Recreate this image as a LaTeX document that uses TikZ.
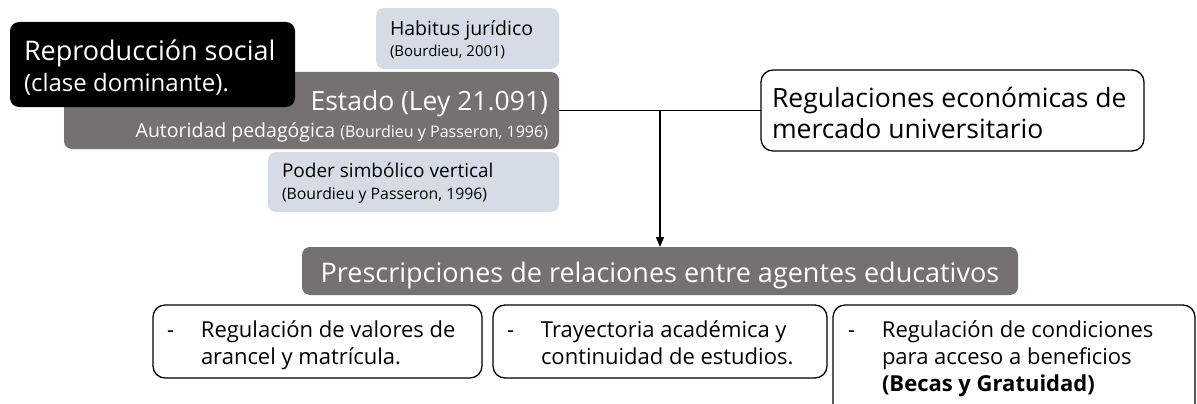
\documentclass[tikz,border=0pt]{standalone}
\usepackage{fontspec}
\setmainfont{Open Sans}
\usetikzlibrary{arrows.meta}
\definecolor{dgray}{HTML}{767171}
\definecolor{lblue}{HTML}{D6DCE5}
\newcommand{\fsz}[2]{\fontsize{#1}{#2}\selectfont}
\begin{document}
\begin{tikzpicture}[x=1pt,y=-1pt,
  box/.style={anchor=north west, inner sep=0pt, outer sep=0pt},
  graybox/.style={box, fill=dgray, rounded corners=8pt},
  lightbox/.style={box, fill=lblue, rounded corners=8pt},
  blackbox/.style={box, fill=black, rounded corners=9pt},
  outbox/.style={box, draw=black, line width=1.3pt, rounded corners=12pt, fill=white},
  txt/.style={inner sep=0pt, outer sep=0pt, align=left},
  wtxt/.style={txt, text=white},
  conn/.style={line width=1.3pt, draw=black}
]
\useasboundingbox (0,0) rectangle (1197,404);
\clip (0,0) rectangle (1197,404);

% boxes
\node[lightbox, minimum width=183pt, minimum height=61pt] (habitus) at (376,8) {};
\node[lightbox, minimum width=291pt, minimum height=60pt] (poder) at (268,152) {};
\node[graybox, minimum width=495pt, minimum height=77pt] (estado) at (64,72) {};
\node[blackbox, minimum width=285pt, minimum height=85pt] (repro) at (10,22) {};
\node[outbox, minimum width=383pt, minimum height=81pt] (reg) at (761,70) {};
\node[graybox, minimum width=716pt, minimum height=48pt] (presc) at (302,247) {};
\node[outbox, minimum width=329pt, minimum height=73pt] (b1) at (153,305) {};
\node[outbox, minimum width=334pt, minimum height=73pt] (b2) at (493,305) {};
\node[outbox, minimum width=362pt, minimum height=130pt] (b3) at (833,305) {};

% texts (base anchor = baseline of the last line)
\node[wtxt, anchor=base west, font=\fsz{27}{32}] (repro-t) at (24,92)
  {Reproducción social\\{\fsz{24}{32}(clase dominante).}};
\node[wtxt, align=right, anchor=base east, font=\fsz{26.5}{27}] (estado-t) at (548,137)
  {Estado (Ley 21.091)\\{\fsz{19.5}{27}Autoridad pedagógica {\fsz{16}{27}(Bourdieu y Passeron, 1996)}}};
\node[txt, anchor=base west, font=\fsz{19.5}{21}] (habitus-t) at (390,57)
  {Habitus jurídico\\{\fsz{15}{21}(Bourdieu, 2001)}};
\node[txt, anchor=base west, font=\fsz{19}{22}] (poder-t) at (282,199)
  {Poder simbólico vertical\\{\fsz{15.8}{22}(Bourdieu y Passeron, 1996)}};
\node[txt, anchor=base west, font=\fsz{26.5}{31}] (reg-t) at (772,138)
  {Regulaciones económicas de\\mercado universitario};
\node[wtxt, anchor=base, font=\fsz{27}{30}] (presc-t) at (660,282)
  {Prescripciones de relaciones entre agentes educativos};
\node[txt, anchor=base west, font=\fsz{22}{27}] (b1-t) at (167,364)
  {\makebox[34pt][l]{-}Regulación de valores de\\\hspace*{34pt}arancel y matrícula.};
\node[txt, anchor=base west, font=\fsz{22}{27}] (b2-t) at (507,364)
  {\makebox[34pt][l]{-}Trayectoria académica y\\\hspace*{34pt}continuidad de estudios.};
\node[txt, anchor=base west, font=\fsz{22}{27}] (b3-t) at (848,391)
  {\makebox[34pt][l]{-}Regulación de condiciones\\\hspace*{34pt}para acceso a beneficios\\\hspace*{34pt}\textbf{(Becas y Gratuidad)}};

% connectors
\coordinate (j) at (presc.north |- estado.east);
\draw[conn] (estado.east) -- (reg.west);
\draw[conn, -{Triangle[width=8pt,length=10pt]}] (j) -- (presc.north);
\end{tikzpicture}
\end{document}
